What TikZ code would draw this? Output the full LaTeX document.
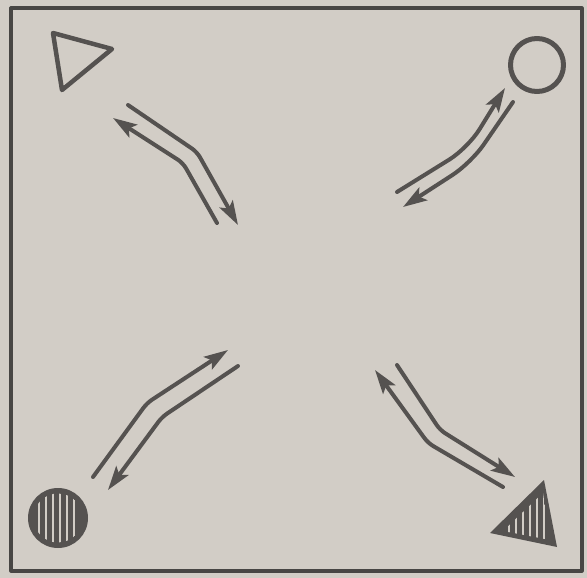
\documentclass[tikz,border=0pt]{standalone}
\usetikzlibrary{arrows.meta}
\definecolor{paper}{HTML}{D2CDC6}
\definecolor{ink}{HTML}{555250}
\begin{document}
\begin{tikzpicture}[x=1pt,y=-1pt, line cap=round, line join=round,
  tipstyle/.tip={Stealth[length=24pt,width=15pt,inset=5pt,sharp]},
  flow/.style={draw=ink, line width=4pt, -tipstyle},
  softflow/.style={flow},
  frame/.style={draw=ink!85!black, line width=3.2pt},
  outline/.style={draw=ink, line width=4.5pt},
  stripe/.style={draw=paper, line width=2.8pt, line cap=butt}]
\fill[paper] (0,0) rectangle (587,578);
\useasboundingbox (0,0) rectangle (587,578);
\draw[frame] (11,8) rectangle (582,571);

% top-left open triangle
\draw[outline] (53,33) -- (112,49) -- (62,90) -- cycle;
% top-right open circle
\node[circle, draw=ink, line width=5pt, minimum size=53pt, inner sep=0pt] (oc) at (537,65) {};
% bottom-left hatched circle
\fill[ink] (58,518) circle (30);
\begin{scope}
  \clip (58,518) circle (24.5);
  \foreach \x in {39,46,...,80} \draw[stripe] (\x,480) -- (\x,560);
\end{scope}
% bottom-right hatched triangle
\fill[ink] (544,480) -- (490,533) -- (557,547) -- cycle;
\begin{scope}
  \clip (543,493) -- (503,531) -- (550,540) -- cycle;
  \foreach \x in {502,509,...,552} \draw[stripe] (\x,480) -- (\x,550);
\end{scope}

% arrow coordinates
\coordinate (a1) at (128,105); \coordinate (a2) at (197,152); \coordinate (a3) at (238,225);
\coordinate (b1) at (217,223); \coordinate (b2) at (183,163); \coordinate (b3) at (113,118);
\coordinate (c1) at (397,192); \coordinate (c2) at (468,148); \coordinate (c3) at (505,88);
\coordinate (d1) at (513,102); \coordinate (d2) at (471,163); \coordinate (d3) at (403,207);
\coordinate (e1) at (93,477);  \coordinate (e2) at (147,403); \coordinate (e3) at (228,350);
\coordinate (f1) at (238,366); \coordinate (f2) at (162,417); \coordinate (f3) at (108,490);
\coordinate (g1) at (503,487); \coordinate (g2) at (428,443); \coordinate (g3) at (375,370);
\coordinate (h1) at (397,365); \coordinate (h2) at (440,430); \coordinate (h3) at (515,477);

\draw[flow] (a1) [rounded corners=6pt] -- (a2) -- (a3);
\draw[flow] (b1) [rounded corners=6pt] -- (b2) -- (b3);
\draw[softflow] (c1) [rounded corners=22pt] -- (c2) -- (c3);
\draw[softflow] (d1) [rounded corners=22pt] -- (d2) -- (d3);
\draw[flow] (e1) [rounded corners=6pt] -- (e2) -- (e3);
\draw[flow] (f1) [rounded corners=6pt] -- (f2) -- (f3);
\draw[flow] (g1) [rounded corners=6pt] -- (g2) -- (g3);
\draw[flow] (h1) [rounded corners=6pt] -- (h2) -- (h3);
\end{tikzpicture}
\end{document}
